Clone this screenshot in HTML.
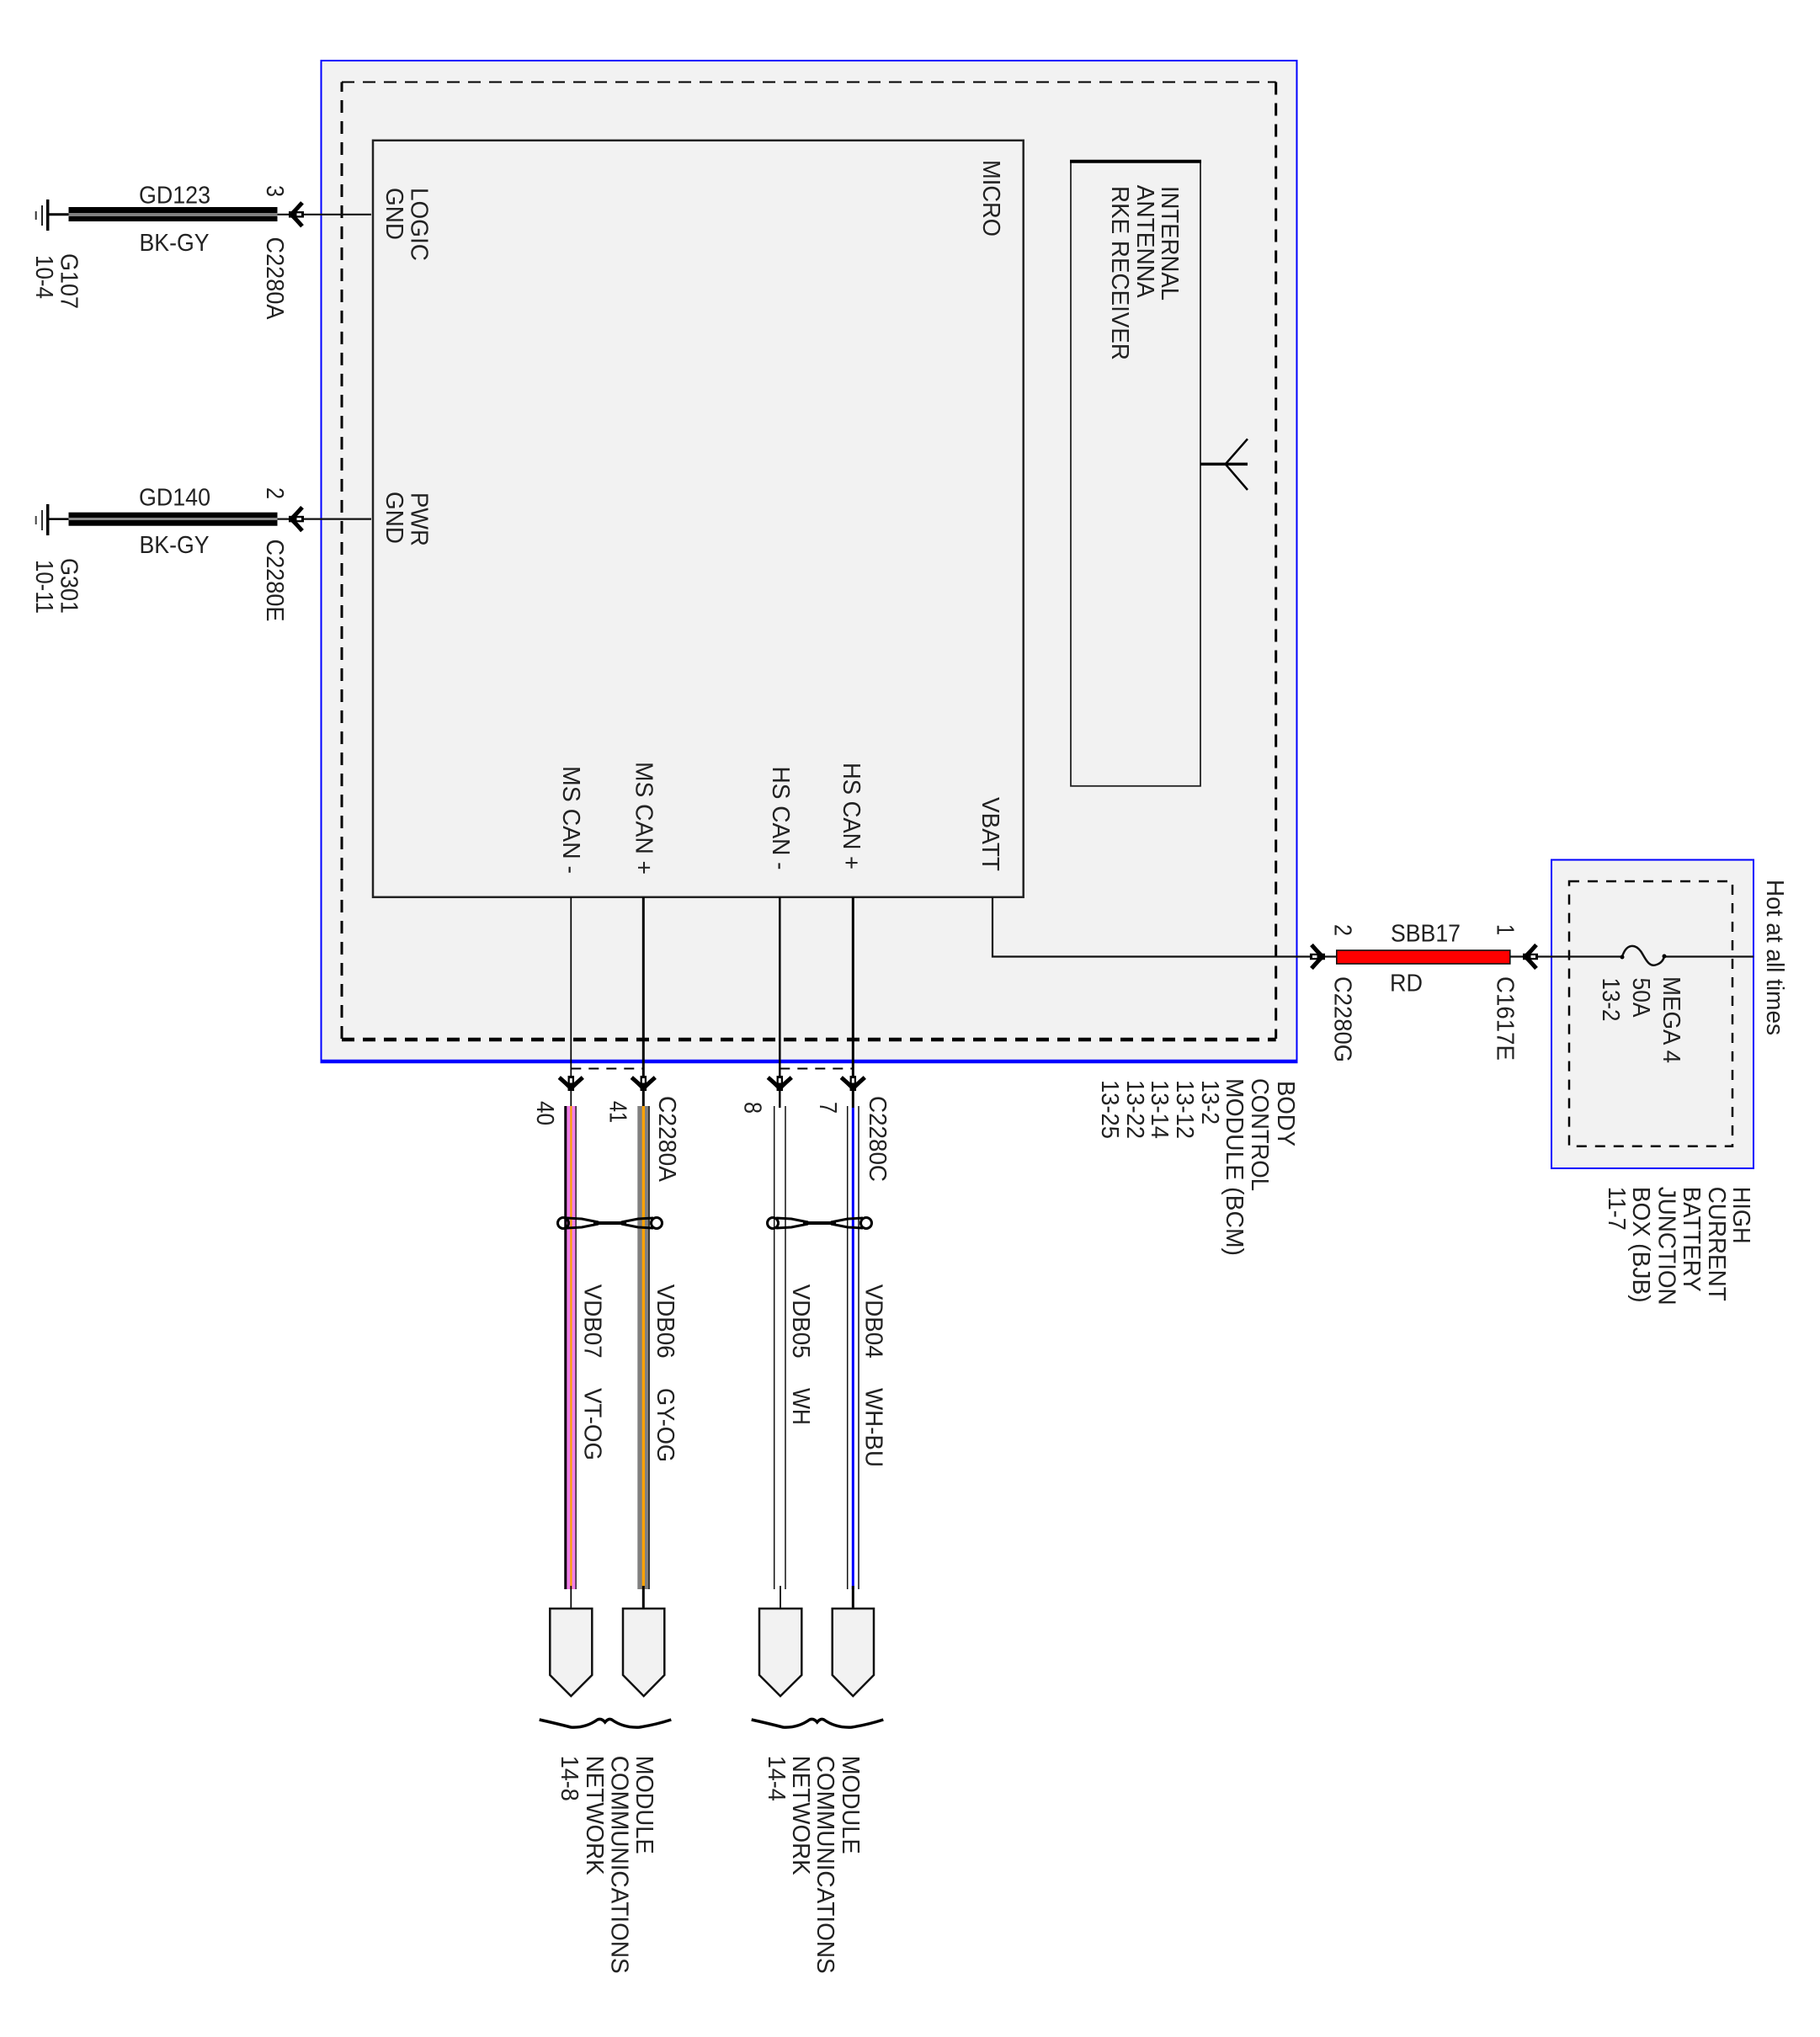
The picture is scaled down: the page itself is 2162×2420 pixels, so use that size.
<!DOCTYPE html>
<html>
<head>
<meta charset="utf-8">
<style>
html,body{margin:0;padding:0;background:#fff;}
svg{display:block;}
text{font-family:"Liberation Sans",sans-serif;font-size:29px;fill:#222;}
</style>
</head>
<body>
<svg xmlns="http://www.w3.org/2000/svg" width="2162" height="2420" viewBox="0 0 2162 2420">
<defs>
<g id="conn">
<path d="M-14 -8 Q-7 -2 0 5 Q7 -2 14 -8" fill="none" stroke="#000" stroke-width="5"/>
<rect x="-3.750" y="-10" width="7.500" height="18" fill="#000"/>
<rect x="-1.500" y="-7" width="3" height="5.500" fill="#f4f4f4"/>
</g>
<g id="twist" fill="none" stroke="#000">
<circle cx="0" cy="0" r="6.500" stroke-width="3"/>
<path d="M4 -6 L22 -5 L42 -1 M4 6 L22 5 L42 1" stroke-width="3"/>
<path d="M36 0 L75 0" stroke-width="4"/>
<path d="M107 -6 L89 -5 L69 -1 M107 6 L89 5 L69 1" stroke-width="3"/>
<circle cx="111" cy="0" r="6.500" stroke-width="3"/>
</g>
<g id="brace"><path d="M0 2043 Q18 2047 37.600 2052 Q55 2053 69 2043 Q74 2041 78 2046 Q82 2041 86 2043 Q100 2053 119 2052 Q138 2049 156.600 2043" fill="none" stroke="#000" stroke-width="3.500"/></g>
</defs>

<!-- BCM box -->
<rect x="381.500" y="72" width="1159" height="1189" fill="#f2f2f2"/>
<path d="M381.500 1261 V72 H1540.500 V1261" fill="none" stroke="#0000ff" stroke-width="2"/>
<path d="M380.500 1261 H1541.500" stroke="#0000ff" stroke-width="4.500"/>
<path d="M406 97.500 H1515.700" fill="none" stroke="#000" stroke-width="2" stroke-dasharray="15 10"/>
<path d="M406 1234 V97.500" fill="none" stroke="#000" stroke-width="3" stroke-dasharray="15 10"/>
<path d="M1515.700 97.500 V1234" fill="none" stroke="#000" stroke-width="3" stroke-dasharray="15 10"/>
<path d="M406 1235 H1515.700" fill="none" stroke="#000" stroke-width="4.500" stroke-dasharray="15 10"/>

<!-- Micro -->
<rect x="443" y="166.800" width="772.700" height="899" fill="#f2f2f2" stroke="#222" stroke-width="2.500"/>
<!-- Receiver -->
<rect x="1272" y="191.800" width="154" height="742" fill="#f2f2f2" stroke="#222" stroke-width="1.800"/>
<path d="M1271 191.800 H1427" stroke="#000" stroke-width="4"/>
<!-- Antenna -->
<path d="M1426 551.400 H1482" stroke="#000" stroke-width="3.500"/>
<path d="M1482 521.400 L1455.700 551.400 L1482 582" fill="none" stroke="#000" stroke-width="2.500"/>

<!-- Ground wires -->
<path d="M57 254.800 H81.500" stroke="#000" stroke-width="3"/>
<path d="M56.700 237 V274" stroke="#000" stroke-width="3.500"/>
<path d="M50 244 V268" stroke="#222" stroke-width="2"/>
<path d="M42.700 251 V261" stroke="#333" stroke-width="2"/>
<rect x="81.500" y="246" width="248" height="17" fill="#000"/>
<rect x="81.500" y="253" width="248" height="4" fill="#808080"/>
<path d="M329.500 254.800 H344 M352 254.800 H441" stroke="#111" stroke-width="2.200"/>
<use href="#conn" transform="translate(351,254.800) rotate(90)"/>

<path d="M57 616.600 H81.500" stroke="#000" stroke-width="2.500"/>
<path d="M56.700 599 V636" stroke="#000" stroke-width="3.500"/>
<path d="M50 606 V630" stroke="#333" stroke-width="2"/>
<path d="M42.700 613 V623" stroke="#444" stroke-width="2"/>
<rect x="81.500" y="608.700" width="248" height="16" fill="#000"/>
<rect x="81.500" y="615" width="248" height="3" fill="#8a8a8a"/>
<path d="M329.500 616.600 H344 M352 616.600 H441" stroke="#111" stroke-width="2.200"/>
<use href="#conn" transform="translate(351,616.600) rotate(90)"/>

<!-- Vertical network wires -->
<path d="M678.300 1066 V1315" stroke="#000" stroke-width="1.700"/>
<path d="M764.300 1066 V1315" stroke="#000" stroke-width="3"/>
<path d="M926.300 1066 V1316" stroke="#000" stroke-width="2.500"/>
<path d="M1013.300 1066 V1316" stroke="#000" stroke-width="3"/>
<path d="M678.300 1269.500 H764.300 M926.300 1269.500 H1013.300" stroke="#000" stroke-width="2" stroke-dasharray="12 9"/>

<!-- wire 1 -->
<rect x="670.300" y="1314" width="14.500" height="574" fill="#f07ee8"/>
<rect x="670.300" y="1314" width="3" height="574" fill="#000"/>
<rect x="683.500" y="1314" width="1.300" height="574" fill="#111"/>
<rect x="677.300" y="1314" width="2.200" height="574" fill="#ffa200"/>
<!-- wire 2 -->
<rect x="757.300" y="1314" width="14.600" height="574" fill="#808080"/>
<rect x="770" y="1314" width="1.900" height="574" fill="#333"/>
<rect x="762.700" y="1314" width="3.300" height="574" fill="#ffa200"/>
<!-- wire 3 -->
<path d="M919.700 1314 V1888 M933 1314 V1888" stroke="#111" stroke-width="1.500"/>
<!-- wire 4 -->
<path d="M1006.700 1314 V1888 M1020 1314 V1888" stroke="#111" stroke-width="1.500"/>
<rect x="1011.800" y="1316" width="3" height="572" fill="#0000ff"/>

<!-- connectors bottom -->
<use href="#conn" transform="translate(678.300,1288)"/>
<use href="#conn" transform="translate(764.300,1288)"/>
<use href="#conn" transform="translate(926.300,1288)"/>
<use href="#conn" transform="translate(1013.300,1288)"/>

<!-- twists -->
<use href="#twist" transform="translate(669,1453)"/>
<use href="#twist" transform="translate(918,1453)"/>

<!-- stubs -->
<path d="M678.300 1884 V1911" stroke="#000" stroke-width="1.700"/>
<path d="M764.300 1884 V1911" stroke="#000" stroke-width="3"/>
<path d="M927 1884 V1911" stroke="#000" stroke-width="1.700"/>
<path d="M1013.300 1884 V1911" stroke="#000" stroke-width="3"/>

<!-- off-page connectors -->
<path d="M653.300 1911 H703.300 V1990 L678.300 2015 L653.300 1990 Z" fill="#f2f2f2" stroke="#111" stroke-width="2.500"/>
<path d="M740 1911 H789.300 V1990 L764.700 2015 L740 1990 Z" fill="#f2f2f2" stroke="#111" stroke-width="2.500"/>
<path d="M902 1911 H952.300 V1990 L927 2015 L902 1990 Z" fill="#f2f2f2" stroke="#111" stroke-width="2.500"/>
<path d="M988.700 1911 H1038 V1990 L1013.300 2015 L988.700 1990 Z" fill="#f2f2f2" stroke="#111" stroke-width="2.500"/>

<use href="#brace" transform="translate(640.700,0)"/>
<use href="#brace" transform="translate(892.700,0)"/>

<!-- Junction box -->
<rect x="1843" y="1021.500" width="240" height="366.500" fill="#f2f2f2" stroke="#0000ff" stroke-width="2"/>
<rect x="1864" y="1047" width="194" height="314.800" fill="none" stroke="#000" stroke-width="2.500" stroke-dasharray="12 10"/>

<!-- VBATT wire -->
<path d="M1179 1066 V1136.500 H1588" fill="none" stroke="#111" stroke-width="2.200"/>
<path d="M1794 1136.500 H1927" stroke="#111" stroke-width="2.200"/>
<path d="M1977 1136.500 H2083" stroke="#111" stroke-width="2.200"/>
<rect x="1587.800" y="1129" width="206" height="16" fill="#ff0000" stroke="#111" stroke-width="1.600"/>
<use href="#conn" transform="translate(1566,1136.500) rotate(-90)"/>
<use href="#conn" transform="translate(1817,1136.500) rotate(90)"/>
<path d="M1927 1136.500 C1932 1121 1942 1121 1949 1130 C1954 1137 1958 1150 1968 1146 C1974 1144 1976 1140 1977 1136.500" fill="none" stroke="#111" stroke-width="2.500"/>
<circle cx="1927" cy="1137" r="2.500" fill="#000"/><circle cx="1977" cy="1136" r="2.500" fill="#000"/>

<!-- Horizontal labels -->
<text x="165" y="241.700" textLength="85" lengthAdjust="spacingAndGlyphs">GD123</text>
<text x="165.500" y="298" textLength="83" lengthAdjust="spacingAndGlyphs">BK-GY</text>
<text x="165" y="600.300" textLength="85" lengthAdjust="spacingAndGlyphs">GD140</text>
<text x="165.500" y="657" textLength="83" lengthAdjust="spacingAndGlyphs">BK-GY</text>
<text x="1652" y="1118.500" textLength="83" lengthAdjust="spacingAndGlyphs">SBB17</text>
<text x="1651" y="1177.500" textLength="39" lengthAdjust="spacingAndGlyphs">RD</text>

<!-- Rotated labels -->
<g transform="translate(1.200,-1)">
<text transform="translate(316,221) rotate(90)" textLength="14" lengthAdjust="spacingAndGlyphs">3</text>
<text transform="translate(316,282.500) rotate(90)" textLength="98" lengthAdjust="spacingAndGlyphs">C2280A</text>
<text transform="translate(71.400,302) rotate(90)" textLength="66" lengthAdjust="spacingAndGlyphs">G107</text>
<text transform="translate(42,304) rotate(90)" textLength="52" lengthAdjust="spacingAndGlyphs">10-4</text>
<text transform="translate(487.500,224) rotate(90)" textLength="87" lengthAdjust="spacingAndGlyphs">LOGIC</text>
<text transform="translate(458,224) rotate(90)" textLength="62" lengthAdjust="spacingAndGlyphs">GND</text>

<text transform="translate(316,580) rotate(90)" textLength="14" lengthAdjust="spacingAndGlyphs">2</text>
<text transform="translate(316,641.500) rotate(90)" textLength="98" lengthAdjust="spacingAndGlyphs">C2280E</text>
<text transform="translate(71.400,664) rotate(90)" textLength="66" lengthAdjust="spacingAndGlyphs">G301</text>
<text transform="translate(42,666) rotate(90)" textLength="64" lengthAdjust="spacingAndGlyphs">10-11</text>
<text transform="translate(487.500,586) rotate(90)" textLength="64" lengthAdjust="spacingAndGlyphs">PWR</text>
<text transform="translate(458,585) rotate(90)" textLength="62" lengthAdjust="spacingAndGlyphs">GND</text>

<text transform="translate(1166.700,191) rotate(90)" textLength="91" lengthAdjust="spacingAndGlyphs">MICRO</text>
<text transform="translate(1379,222) rotate(90)" textLength="136" lengthAdjust="spacingAndGlyphs">INTERNAL</text>
<text transform="translate(1350,220.700) rotate(90)" textLength="134" lengthAdjust="spacingAndGlyphs">ANTENNA</text>
<text transform="translate(1320,222) rotate(90)" textLength="207" lengthAdjust="spacingAndGlyphs">RKE RECEIVER</text>

<text transform="translate(1166,948) rotate(90)" textLength="88" lengthAdjust="spacingAndGlyphs">VBATT</text>
<text transform="translate(668,911) rotate(90)" textLength="128" lengthAdjust="spacingAndGlyphs">MS CAN -</text>
<text transform="translate(754.500,906) rotate(90)" textLength="134" lengthAdjust="spacingAndGlyphs">MS CAN +</text>
<text transform="translate(917,911.500) rotate(90)" textLength="123" lengthAdjust="spacingAndGlyphs">HS CAN -</text>
<text transform="translate(1001,907) rotate(90)" textLength="127" lengthAdjust="spacingAndGlyphs">HS CAN +</text>

<text transform="translate(636.700,1309) rotate(90)" textLength="29" lengthAdjust="spacingAndGlyphs">40</text>
<text transform="translate(723.300,1309) rotate(90)" textLength="26" lengthAdjust="spacingAndGlyphs">41</text>
<text transform="translate(781.700,1303) rotate(90)" textLength="102" lengthAdjust="spacingAndGlyphs">C2280A</text>
<text transform="translate(883.300,1310) rotate(90)" textLength="14" lengthAdjust="spacingAndGlyphs">8</text>
<text transform="translate(972.700,1310) rotate(90)" textLength="14" lengthAdjust="spacingAndGlyphs">7</text>
<text transform="translate(1031.700,1303) rotate(90)" textLength="102" lengthAdjust="spacingAndGlyphs">C2280C</text>

<text transform="translate(693.300,1526.700) rotate(90)" textLength="88" lengthAdjust="spacingAndGlyphs">VDB07</text>
<text transform="translate(693.300,1650) rotate(90)" textLength="86" lengthAdjust="spacingAndGlyphs">VT-OG</text>
<text transform="translate(780,1526.700) rotate(90)" textLength="88" lengthAdjust="spacingAndGlyphs">VDB06</text>
<text transform="translate(780,1650) rotate(90)" textLength="88" lengthAdjust="spacingAndGlyphs">GY-OG</text>
<text transform="translate(940.700,1526.700) rotate(90)" textLength="88" lengthAdjust="spacingAndGlyphs">VDB05</text>
<text transform="translate(940.700,1650) rotate(90)" textLength="44" lengthAdjust="spacingAndGlyphs">WH</text>
<text transform="translate(1027.300,1526.700) rotate(90)" textLength="88" lengthAdjust="spacingAndGlyphs">VDB04</text>
<text transform="translate(1027.300,1650) rotate(90)" textLength="94" lengthAdjust="spacingAndGlyphs">WH-BU</text>

<text transform="translate(755,2086.700) rotate(90)" textLength="117" lengthAdjust="spacingAndGlyphs">MODULE</text>
<text transform="translate(725.300,2086.700) rotate(90)" textLength="259" lengthAdjust="spacingAndGlyphs">COMMUNICATIONS</text>
<text transform="translate(696,2086.700) rotate(90)" textLength="142" lengthAdjust="spacingAndGlyphs">NETWORK</text>
<text transform="translate(666,2086.700) rotate(90)" textLength="54" lengthAdjust="spacingAndGlyphs">14-8</text>

<text transform="translate(1000,2086.700) rotate(90)" textLength="117" lengthAdjust="spacingAndGlyphs">MODULE</text>
<text transform="translate(970,2086.700) rotate(90)" textLength="259" lengthAdjust="spacingAndGlyphs">COMMUNICATIONS</text>
<text transform="translate(940.700,2086.700) rotate(90)" textLength="142" lengthAdjust="spacingAndGlyphs">NETWORK</text>
<text transform="translate(911.700,2086.700) rotate(90)" textLength="54" lengthAdjust="spacingAndGlyphs">14-4</text>

<text transform="translate(1517,1285) rotate(90)" textLength="78" lengthAdjust="spacingAndGlyphs">BODY</text>
<text transform="translate(1486,1282) rotate(90)" textLength="134" lengthAdjust="spacingAndGlyphs">CONTROL</text>
<text transform="translate(1456,1282) rotate(90)" textLength="211" lengthAdjust="spacingAndGlyphs">MODULE (BCM)</text>
<text transform="translate(1426.700,1284) rotate(90)" textLength="53" lengthAdjust="spacingAndGlyphs">13-2</text>
<text transform="translate(1396.700,1284) rotate(90)" textLength="70" lengthAdjust="spacingAndGlyphs">13-12</text>
<text transform="translate(1367,1284) rotate(90)" textLength="70" lengthAdjust="spacingAndGlyphs">13-14</text>
<text transform="translate(1337.700,1284) rotate(90)" textLength="70" lengthAdjust="spacingAndGlyphs">13-22</text>
<text transform="translate(1308,1284) rotate(90)" textLength="70" lengthAdjust="spacingAndGlyphs">13-25</text>

<text transform="translate(1584.500,1099) rotate(90)" textLength="14" lengthAdjust="spacingAndGlyphs">2</text>
<text transform="translate(1584.500,1161) rotate(90)" textLength="102" lengthAdjust="spacingAndGlyphs">C2280G</text>
<text transform="translate(1777.500,1099) rotate(90)" textLength="13" lengthAdjust="spacingAndGlyphs">1</text>
<text transform="translate(1777.500,1161) rotate(90)" textLength="100" lengthAdjust="spacingAndGlyphs">C1617E</text>

<text transform="translate(1974.700,1161) rotate(90)" textLength="103" lengthAdjust="spacingAndGlyphs">MEGA 4</text>
<text transform="translate(1938.800,1162.500) rotate(90)" textLength="47" lengthAdjust="spacingAndGlyphs">50A</text>
<text transform="translate(1902.900,1162.500) rotate(90)" textLength="52" lengthAdjust="spacingAndGlyphs">13-2</text>
<text transform="translate(2098,1046) rotate(90)" textLength="185" lengthAdjust="spacingAndGlyphs">Hot at all times</text>

<text transform="translate(2058,1410.700) rotate(90)" textLength="68" lengthAdjust="spacingAndGlyphs">HIGH</text>
<text transform="translate(2028.600,1410.700) rotate(90)" textLength="136" lengthAdjust="spacingAndGlyphs">CURRENT</text>
<text transform="translate(1998.800,1410.700) rotate(90)" textLength="125" lengthAdjust="spacingAndGlyphs">BATTERY</text>
<text transform="translate(1969.400,1410.700) rotate(90)" textLength="141" lengthAdjust="spacingAndGlyphs">JUNCTION</text>
<text transform="translate(1938.800,1410.700) rotate(90)" textLength="138" lengthAdjust="spacingAndGlyphs">BOX (BJB)</text>
<text transform="translate(1910,1410.700) rotate(90)" textLength="52" lengthAdjust="spacingAndGlyphs">11-7</text>
</g>
</svg>
</body>
</html>
